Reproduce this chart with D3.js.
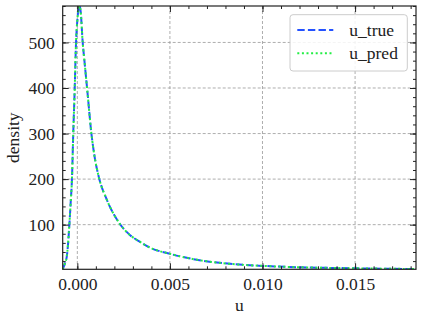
<!DOCTYPE html>
<html>
<head>
<meta charset="utf-8">
<script src="https://cdn.jsdelivr.net/npm/d3@7"></script>
<style>
  html, body { margin: 0; padding: 0; background: #fff; }
  svg { display: block; }
  text { font-family: "Liberation Serif", serif; fill: #222; }
</style>
</head>
<body>
<svg id="chart" width="423" height="322"></svg>
<script>
// ---- data ----
const uValues = [-0.00079, -0.00076, -0.00067, -0.00057, -0.00050, -0.00043, -0.00036, -0.00029,
  -0.00022, -0.00014, -0.00007, 0.00000, 0.00006, 0.00012, 0.00018, 0.00029, 0.00040, 0.00054,
  0.00076, 0.00095, 0.00117, 0.00159, 0.00231, 0.00285, 0.00339, 0.00390, 0.00500, 0.00660,
  0.00840, 0.01000, 0.01200, 0.01400, 0.01600, 0.01829];
const densityTrue = [2, 5, 15, 30, 58, 100, 148, 200,
  300, 400, 500, 548, 572, 580, 568, 500, 453, 394,
  300, 245, 203, 155, 101, 77, 62, 50, 36, 22,
  13.5, 9.5, 6.5, 4.8, 3.6, 2.6];
const densityPred = [2, 5, 15, 30, 58, 100, 148, 200,
  300, 400, 500, 548, 572, 580, 568, 500, 453, 394,
  300, 245, 203, 155, 101, 77, 62, 50, 36, 22,
  13.5, 9.5, 6.5, 4.8, 3.6, 2.6];
const xTicks = [0.000, 0.005, 0.010, 0.015];
const xTickLabels = ["0.000", "0.005", "0.010", "0.015"];
const yTicks = [100, 200, 300, 400, 500];
const yTickLabels = ["100", "200", "300", "400", "500"];
const seriesNames = ["u_true", "u_pred"];

// ---- layout ----
const FONT = '"Liberation Serif", serif';
const FS = "17.5px";
const svg = d3.select("#chart");
const L = 62.7, R = 416, T = 6, B = 269.3;
const x = d3.scaleLinear().domain([-0.00079, 0.01829]).range([L, R]);
const y = d3.scaleLinear().domain([2, 580]).range([B, T]);

svg.append("defs").append("clipPath").attr("id", "clip")
  .append("rect").attr("x", L).attr("y", T).attr("width", R - L).attr("height", B - T);

// grid
const grid = svg.append("g");
xTicks.forEach(v => grid.append("line")
  .attr("x1", x(v)).attr("x2", x(v)).attr("y1", T).attr("y2", B)
  .attr("stroke", "#999").attr("stroke-width", 0.8).attr("stroke-dasharray", "3,2"));
yTicks.forEach(v => grid.append("line")
  .attr("x1", L).attr("x2", R).attr("y1", y(v)).attr("y2", y(v))
  .attr("stroke", "#999").attr("stroke-width", 0.8).attr("stroke-dasharray", "3,2"));

// lines
const line = d3.line().x(d => x(d[0])).y(d => y(d[1])).curve(d3.curveMonotoneX);
const g = svg.append("g").attr("clip-path", "url(#clip)");
g.append("path").datum(uValues.map((u, i) => [u, densityTrue[i]]))
  .attr("d", line).attr("fill", "none").attr("stroke", "#2452ff")
  .attr("stroke-width", 2).attr("stroke-dasharray", "7.4,3.2");
g.append("path").datum(uValues.map((u, i) => [u, densityPred[i]]))
  .attr("d", line).attr("fill", "none").attr("stroke", "#22ee44")
  .attr("stroke-width", 2).attr("stroke-dasharray", "2,2.6");

// axes (ticks inward on all sides)
const xMinor = d3.range(0, 0.0185, 0.001).filter(v => x(v) <= R);
const yMinor = d3.range(20, 581, 20);
const fmtX = (d) => xTickLabels[xTicks.indexOf(d)];
const fmtY = (d) => yTickLabels[yTicks.indexOf(d)];

function styleAxis(sel) {
  sel.attr("font-family", FONT).attr("font-size", FS);
  sel.select(".domain").remove();
  sel.selectAll("line").attr("stroke", "#222").attr("stroke-width", 1);
  sel.selectAll("text").attr("font-family", FONT).attr("font-size", FS).attr("fill", "#222");
}
// bottom
svg.append("g").attr("transform", `translate(0,${B})`)
  .call(d3.axisBottom(x).tickValues(xMinor).tickSize(-3).tickFormat(""))
  .call(styleAxis);
svg.append("g").attr("transform", `translate(0,${B})`)
  .call(d3.axisBottom(x).tickValues(xTicks).tickSize(-6).tickPadding(8).tickFormat(fmtX))
  .call(styleAxis);
// top
svg.append("g").attr("transform", `translate(0,${T})`)
  .call(d3.axisTop(x).tickValues(xMinor).tickSize(-3).tickFormat(""))
  .call(styleAxis);
svg.append("g").attr("transform", `translate(0,${T})`)
  .call(d3.axisTop(x).tickValues(xTicks).tickSize(-6).tickFormat(""))
  .call(styleAxis);
// left
svg.append("g").attr("transform", `translate(${L},0)`)
  .call(d3.axisLeft(y).tickValues(yMinor).tickSize(-3).tickFormat(""))
  .call(styleAxis);
svg.append("g").attr("transform", `translate(${L},0)`)
  .call(d3.axisLeft(y).tickValues(yTicks).tickSize(-6).tickPadding(8).tickFormat(fmtY))
  .call(styleAxis);
// right
svg.append("g").attr("transform", `translate(${R},0)`)
  .call(d3.axisRight(y).tickValues(yMinor).tickSize(-3).tickFormat(""))
  .call(styleAxis);
svg.append("g").attr("transform", `translate(${R},0)`)
  .call(d3.axisRight(y).tickValues(yTicks).tickSize(-6).tickFormat(""))
  .call(styleAxis);

// frame
svg.append("rect").attr("x", L).attr("y", T).attr("width", R - L).attr("height", B - T)
  .attr("fill", "none").attr("stroke", "#222").attr("stroke-width", 1.2);

// axis labels
svg.append("text").attr("x", (L + R) / 2).attr("y", 311).attr("text-anchor", "middle")
  .attr("font-family", FONT).attr("font-size", FS).text("u");
svg.append("text").attr("transform", `translate(19,${(T + B) / 2}) rotate(-90)`)
  .attr("text-anchor", "middle").attr("font-family", FONT).attr("font-size", FS).text("density");

// legend
const lg = svg.append("g");
lg.append("rect").attr("x", 290).attr("y", 14.7).attr("width", 117.3).attr("height", 56.3)
  .attr("rx", 3).attr("fill", "rgba(255,255,255,0.85)").attr("stroke", "#ccc").attr("stroke-width", 1);
const legendStyles = [
  { color: "#2452ff", dash: "7.4,3.2" },
  { color: "#22ee44", dash: "2,2.6" }
];
seriesNames.forEach((name, i) => {
  const yy = 30 + i * 23.3;
  lg.append("line").attr("x1", 297.3).attr("x2", 333.3).attr("y1", yy).attr("y2", yy)
    .attr("stroke", legendStyles[i].color).attr("stroke-width", 2).attr("stroke-dasharray", legendStyles[i].dash);
  lg.append("text").attr("x", 349.3).attr("y", yy + 5.5)
    .attr("font-family", FONT).attr("font-size", FS).text(name);
});
</script>
</body>
</html>
